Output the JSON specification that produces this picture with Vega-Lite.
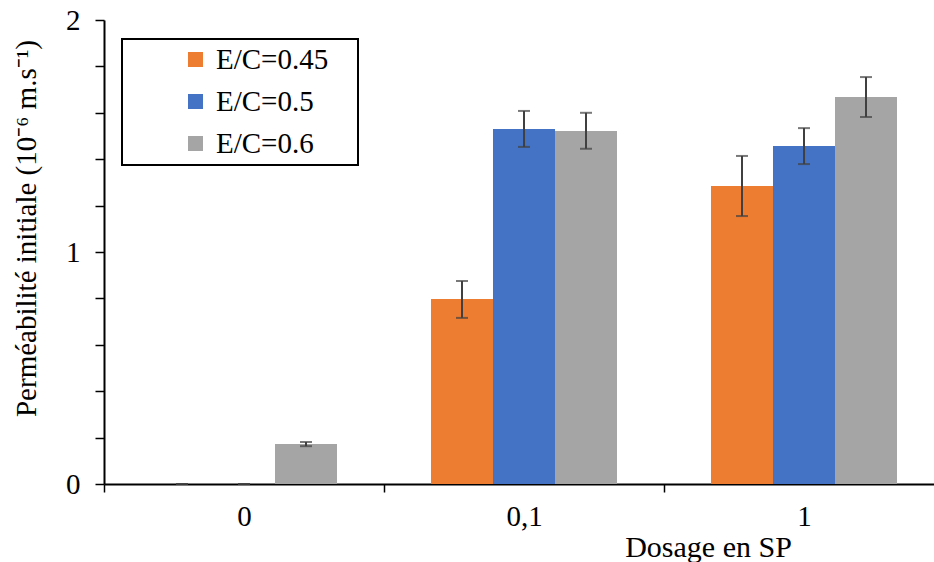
{
  "$schema": "https://vega.github.io/schema/vega-lite/v6.json",
  "width": 830,
  "height": 464,
  "autosize": {"type": "none"},
  "padding": {"left": 104, "top": 20, "right": 0, "bottom": 78},
  "background": "white",
  "config": {
    "view": {"stroke": null},
    "font": "Liberation Serif",
    "axis": {"labelFont": "Liberation Serif", "titleFont": "Liberation Serif"},
    "legend": {"strokeColor": "black", "strokeWidth": 2, "labelFont": "Liberation Serif"}
  },
  "data": {
    "values": [
      {"dosage": "0", "ec": "E/C=0.45", "value": 0, "lo": 0, "hi": 0},
      {"dosage": "0", "ec": "E/C=0.5", "value": 0, "lo": 0, "hi": 0},
      {"dosage": "0", "ec": "E/C=0.6", "value": 0.172, "lo": 0.163, "hi": 0.181},
      {"dosage": "0,1", "ec": "E/C=0.45", "value": 0.797, "lo": 0.716, "hi": 0.875},
      {"dosage": "0,1", "ec": "E/C=0.5", "value": 1.53, "lo": 1.453, "hi": 1.608},
      {"dosage": "0,1", "ec": "E/C=0.6", "value": 1.522, "lo": 1.445, "hi": 1.6},
      {"dosage": "1", "ec": "E/C=0.45", "value": 1.284, "lo": 1.155, "hi": 1.414},
      {"dosage": "1", "ec": "E/C=0.5", "value": 1.457, "lo": 1.379, "hi": 1.534},
      {"dosage": "1", "ec": "E/C=0.6", "value": 1.668, "lo": 1.582, "hi": 1.754}
    ]
  },
  "encoding": {
    "x": {
      "field": "dosage",
      "type": "nominal",
      "sort": ["0", "0,1", "1"],
      "scale": {"range": [0, 840], "paddingInner": 0, "paddingOuter": 0},
      "axis": {
        "title": "Dosage en SP",
        "titleFont": "Liberation Serif",
        "titleFontSize": 30,
        "titleFontWeight": "normal",
        "titleColor": "black",
        "titleX": 604,
        "titleY": 72,
        "titleAlign": "center",
        "titleBaseline": "alphabetic",
        "labelFont": "Liberation Serif",
        "labelFontSize": 29,
        "labelColor": "black",
        "labelAngle": 0,
        "labelPadding": 10,
        "tickBand": "extent",
        "tickSize": 8,
        "tickColor": "black",
        "tickWidth": 1.5,
        "domainColor": "black",
        "domainWidth": 2
      }
    },
    "xOffset": {
      "field": "ec",
      "type": "nominal",
      "sort": ["E/C=0.45", "E/C=0.5", "E/C=0.6"],
      "scale": {"paddingInner": 0, "paddingOuter": 0.758}
    }
  },
  "layer": [
    {
      "mark": {"type": "bar"},
      "encoding": {
        "y": {
          "field": "value",
          "type": "quantitative",
          "scale": {"domain": [0, 2], "nice": false},
          "axis": {
            "title": "Perméabilité initiale (10⁻⁶ m.s⁻¹)",
            "titleFont": "Liberation Serif",
            "titleFontSize": 29,
            "titleFontWeight": "normal",
            "titleColor": "black",
            "titleX": -69,
            "titleY": 208,
            "titleAngle": -90,
            "titleAlign": "center",
            "titleBaseline": "alphabetic",
            "values": [0, 0.2, 0.4, 0.6, 0.8, 1, 1.2, 1.4, 1.6, 1.8, 2],
            "labelExpr": "datum.value == 0 || datum.value == 1 || datum.value == 2 ? format(datum.value, 'd') : ''",
            "labelFont": "Liberation Serif",
            "labelFontSize": 29,
            "labelColor": "black",
            "labelPadding": 15,
            "tickSize": 9,
            "tickColor": "black",
            "tickWidth": 1.5,
            "domainColor": "black",
            "domainWidth": 2,
            "grid": false
          }
        },
        "color": {
          "field": "ec",
          "type": "nominal",
          "sort": ["E/C=0.45", "E/C=0.5", "E/C=0.6"],
          "scale": {"range": ["#ED7D31", "#4472C4", "#A5A5A5"]},
          "legend": {
            "title": "\u00a0",
            "titleOrient": "right",
            "titleFontSize": 8,
            "titlePadding": 24,
            "orient": "none",
            "legendX": 18,
            "legendY": 19,
            "strokeColor": "black",
            "fillColor": "white",
            "padding": 6,
            "symbolOffset": 53,
            "symbolType": "square",
            "symbolSize": 225,
            "symbolStrokeWidth": 0,
            "labelFont": "Liberation Serif",
            "labelFontSize": 29,
            "labelColor": "black",
            "labelOffset": 6,
            "rowPadding": 12
          }
        }
      }
    },
    {
      "mark": {"type": "rule", "color": "#404040", "strokeWidth": 2},
      "encoding": {
        "y": {"field": "lo", "type": "quantitative"},
        "y2": {"field": "hi"}
      }
    },
    {
      "mark": {"type": "tick", "orient": "horizontal", "color": "#404040", "size": 12, "thickness": 2},
      "encoding": {"y": {"field": "lo", "type": "quantitative"}}
    },
    {
      "mark": {"type": "tick", "orient": "horizontal", "color": "#404040", "size": 12, "thickness": 2},
      "encoding": {"y": {"field": "hi", "type": "quantitative"}}
    }
  ]
}
